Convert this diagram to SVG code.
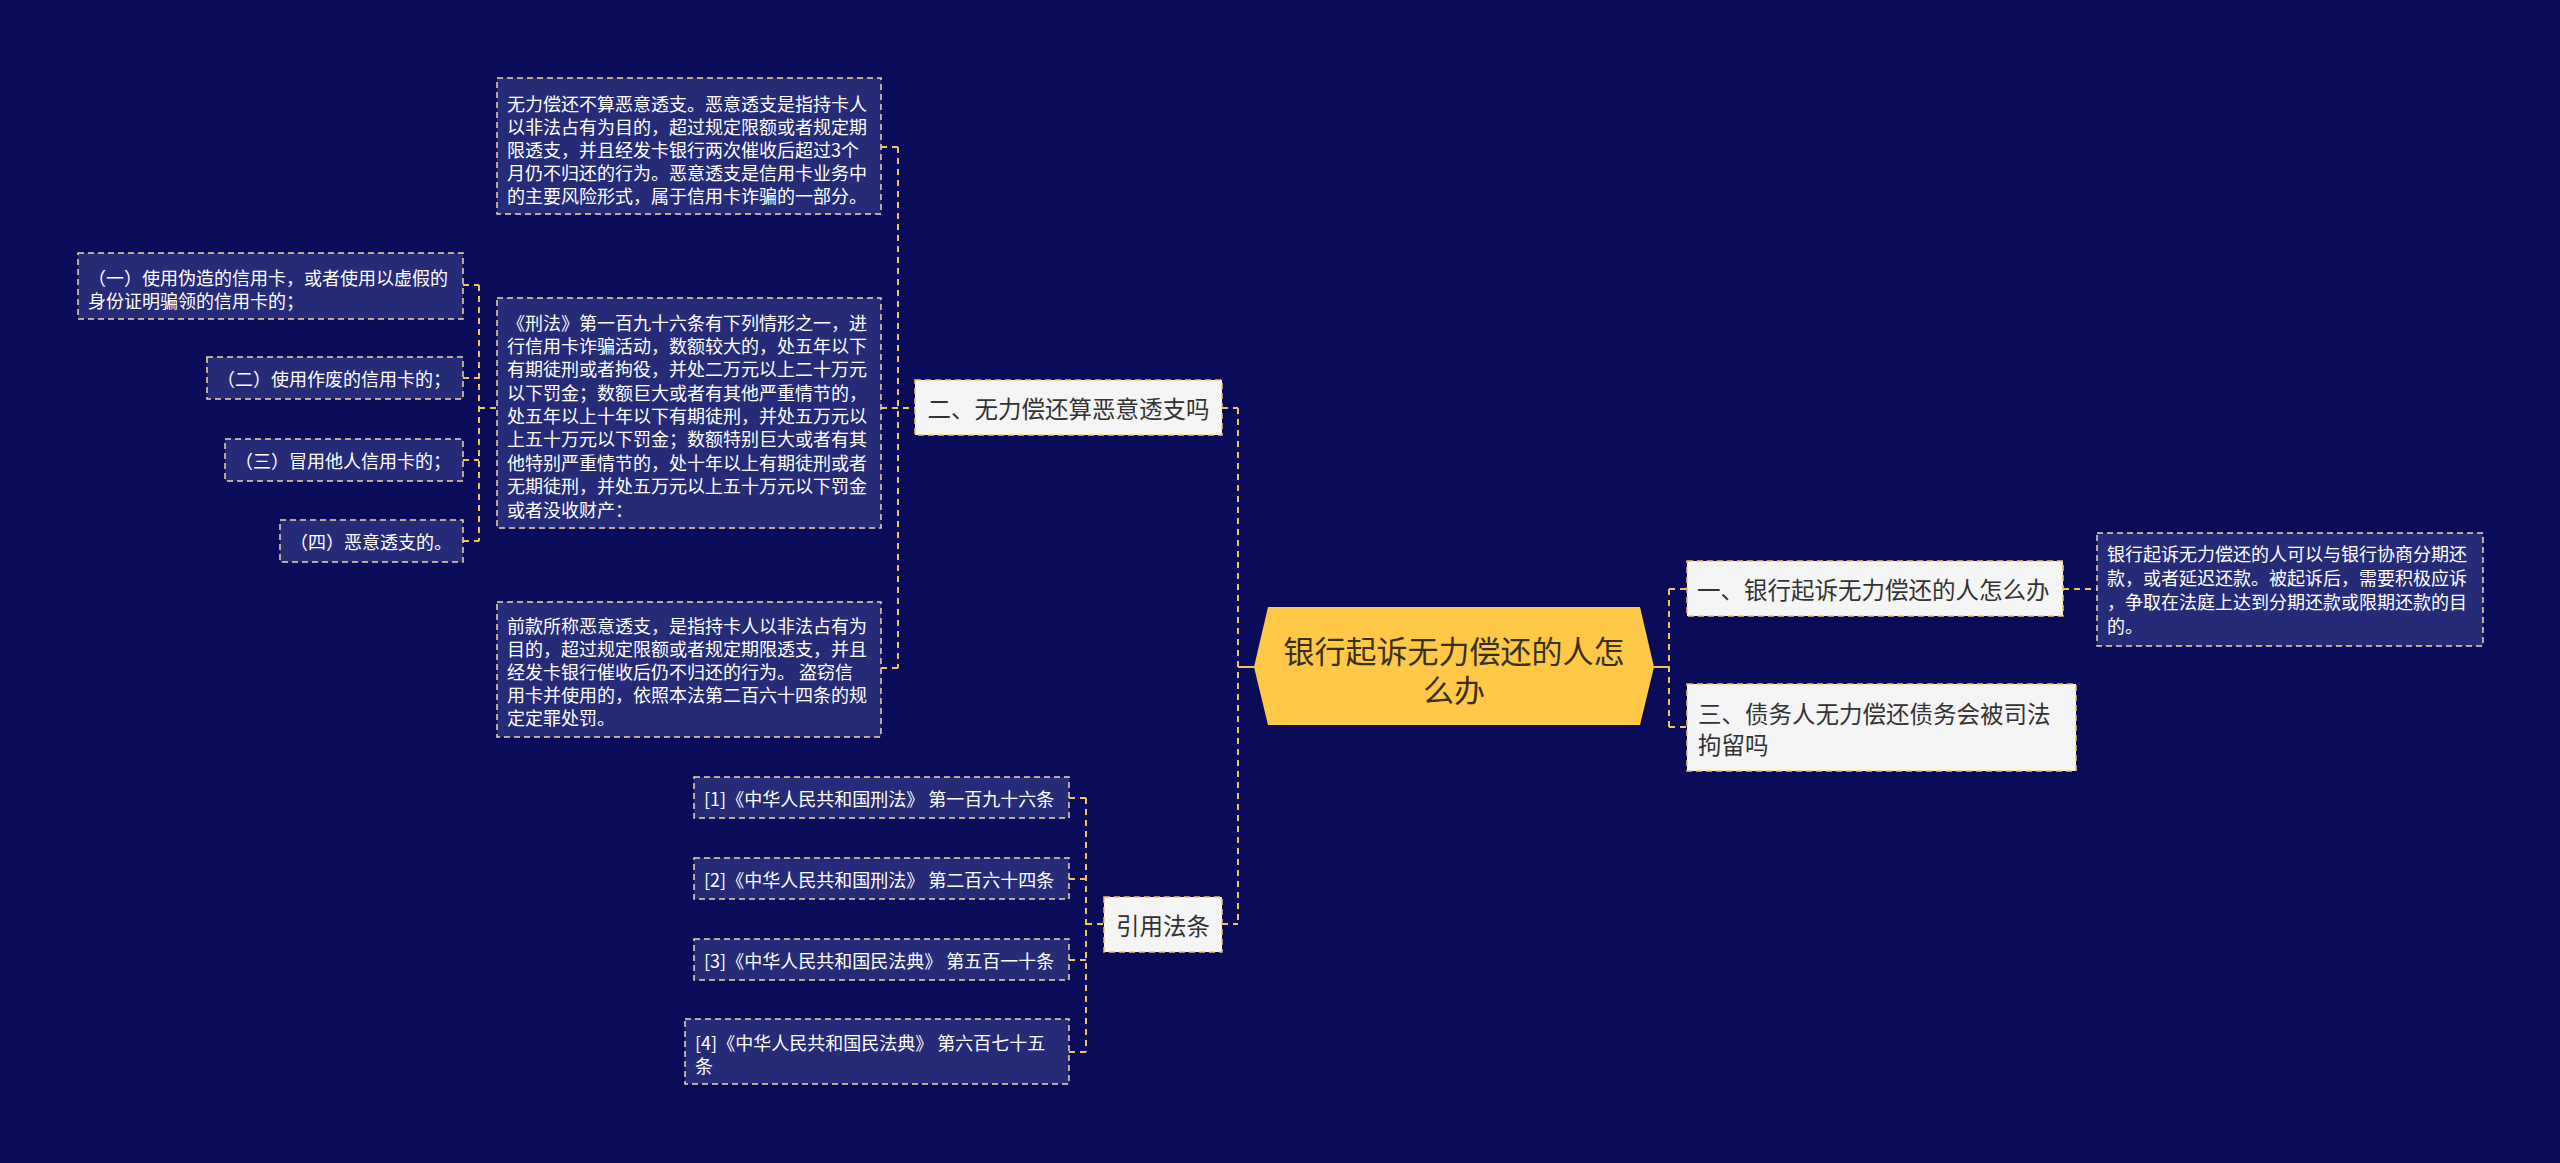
<svg xmlns="http://www.w3.org/2000/svg" width="2560" height="1163" viewBox="0 0 2560 1163">
<style>
text{font-family:"Noto Sans CJK SC","Liberation Sans",sans-serif;dominant-baseline:central}
.dark rect{fill:#262B77;stroke:#EED7A6;stroke-width:1.5;stroke-dasharray:6 4}
.dark text{fill:#FFFFFF;font-size:18px}
.light rect{fill:#F5F5F5;stroke:#F2C35F;stroke-width:1.5;stroke-dasharray:6 4}
.light text{fill:#333333;font-size:23.5px}
.conn{fill:none;stroke:#F0C35E;stroke-width:2;stroke-dasharray:6 5}
.solid{fill:none;stroke:#F0C35E;stroke-width:2}
</style>
<rect x="0" y="0" width="2560" height="1163" fill="#0A0C5A"/>
<g id="connectors">
<path class="solid" d="M1254 667 H1238"/>
<path class="conn" d="M1238 408 V924 M1222 408 H1238 M1222 924 H1238"/>
<path class="solid" d="M1654 667 H1669"/>
<path class="conn" d="M1669 589 V727 M1669 589 H1687 M1669 727 H1687"/>
<path class="conn" d="M2063 589 H2097"/>
<path class="conn" d="M898 147 V668 M881 147 H898 M881 408 H915 M881 668 H898"/>
<path class="conn" d="M479 285 V541 M463 285 H479 M463 378 H479 M463 460 H479 M463 541 H479 M479 408 H497"/>
<path class="conn" d="M1086 798 V1052 M1069 798 H1086 M1069 879 H1086 M1069 960 H1086 M1069 1052 H1086 M1086 924 H1104"/>
</g>
<g id="root">
<polygon points="1254,667 1268,607 1640,607 1654,667 1640,725 1268,725" fill="#FFC947"/>
<text x="1454" y="649" text-anchor="middle" font-size="31" fill="#3A3020">银行起诉无力偿还的人怎</text>
<text x="1454" y="688" text-anchor="middle" font-size="31" fill="#3A3020">么办</text>
</g>
<g id="n1" class="light">
<rect x="1687" y="561" width="376" height="55"/>
<text x="1697" y="589">一、银行起诉无力偿还的人怎么办</text>
</g>
<g id="n1a" class="dark">
<rect x="2097" y="533" width="386" height="113"/>
<text x="2107" y="553">银行起诉无力偿还的人可以与银行协商分期还</text>
<text x="2107" y="577">款，或者延迟还款。被起诉后，需要积极应诉</text>
<text x="2107" y="601">，争取在法庭上达到分期还款或限期还款的目</text>
<text x="2107" y="625">的。</text>
</g>
<g id="n3" class="light">
<rect x="1687" y="684" width="389" height="87"/>
<text x="1698" y="713">三、债务人无力偿还债务会被司法</text>
<text x="1698" y="744">拘留吗</text>
</g>
<g id="n2" class="light">
<rect x="915" y="380" width="307" height="55"/>
<text x="1068.5" y="408" text-anchor="middle">二、无力偿还算恶意透支吗</text>
</g>
<g id="n2a" class="dark">
<rect x="497" y="78" width="384" height="136"/>
<text x="507" y="103">无力偿还不算恶意透支。恶意透支是指持卡人</text>
<text x="507" y="126">以非法占有为目的，超过规定限额或者规定期</text>
<text x="507" y="149">限透支，并且经发卡银行两次催收后超过3个</text>
<text x="507" y="172">月仍不归还的行为。恶意透支是信用卡业务中</text>
<text x="507" y="195">的主要风险形式，属于信用卡诈骗的一部分。</text>
</g>
<g id="n2b" class="dark">
<rect x="497" y="298" width="384" height="230"/>
<text x="507" y="322">《刑法》第一百九十六条有下列情形之一，进</text>
<text x="507" y="345">行信用卡诈骗活动，数额较大的，处五年以下</text>
<text x="507" y="368">有期徒刑或者拘役，并处二万元以上二十万元</text>
<text x="507" y="392">以下罚金；数额巨大或者有其他严重情节的，</text>
<text x="507" y="415">处五年以上十年以下有期徒刑，并处五万元以</text>
<text x="507" y="438">上五十万元以下罚金；数额特别巨大或者有其</text>
<text x="507" y="462">他特别严重情节的，处十年以上有期徒刑或者</text>
<text x="507" y="485">无期徒刑，并处五万元以上五十万元以下罚金</text>
<text x="507" y="509">或者没收财产：</text>
</g>
<g id="n2b1" class="dark">
<rect x="78" y="253" width="385" height="66"/>
<text x="88" y="277">（一）使用伪造的信用卡，或者使用以虚假的</text>
<text x="88" y="300">身份证明骗领的信用卡的；</text>
</g>
<g id="n2b2" class="dark">
<rect x="207" y="357" width="256" height="42"/>
<text x="217" y="378">（二）使用作废的信用卡的；</text>
</g>
<g id="n2b3" class="dark">
<rect x="225" y="439" width="238" height="42"/>
<text x="235" y="460">（三）冒用他人信用卡的；</text>
</g>
<g id="n2b4" class="dark">
<rect x="280" y="520" width="183" height="42"/>
<text x="290" y="541">（四）恶意透支的。</text>
</g>
<g id="n2c" class="dark">
<rect x="497" y="602" width="384" height="135"/>
<text x="507" y="625">前款所称恶意透支，是指持卡人以非法占有为</text>
<text x="507" y="648">目的，超过规定限额或者规定期限透支，并且</text>
<text x="507" y="671">经发卡银行催收后仍不归还的行为。 盗窃信</text>
<text x="507" y="694">用卡并使用的，依照本法第二百六十四条的规</text>
<text x="507" y="717">定定罪处罚。</text>
</g>
<g id="n4" class="light">
<rect x="1104" y="897" width="118" height="55"/>
<text x="1163" y="925" text-anchor="middle">引用法条</text>
</g>
<g id="n4a" class="dark">
<rect x="694" y="777" width="375" height="41"/>
<text x="704" y="798">[1]《中华人民共和国刑法》 第一百九十六条</text>
</g>
<g id="n4b" class="dark">
<rect x="694" y="858" width="375" height="41"/>
<text x="704" y="879">[2]《中华人民共和国刑法》 第二百六十四条</text>
</g>
<g id="n4c" class="dark">
<rect x="694" y="939" width="375" height="41"/>
<text x="704" y="960">[3]《中华人民共和国民法典》 第五百一十条</text>
</g>
<g id="n4d" class="dark">
<rect x="685" y="1019" width="384" height="65"/>
<text x="695" y="1042">[4]《中华人民共和国民法典》 第六百七十五</text>
<text x="695" y="1065">条</text>
</g>
</svg>
